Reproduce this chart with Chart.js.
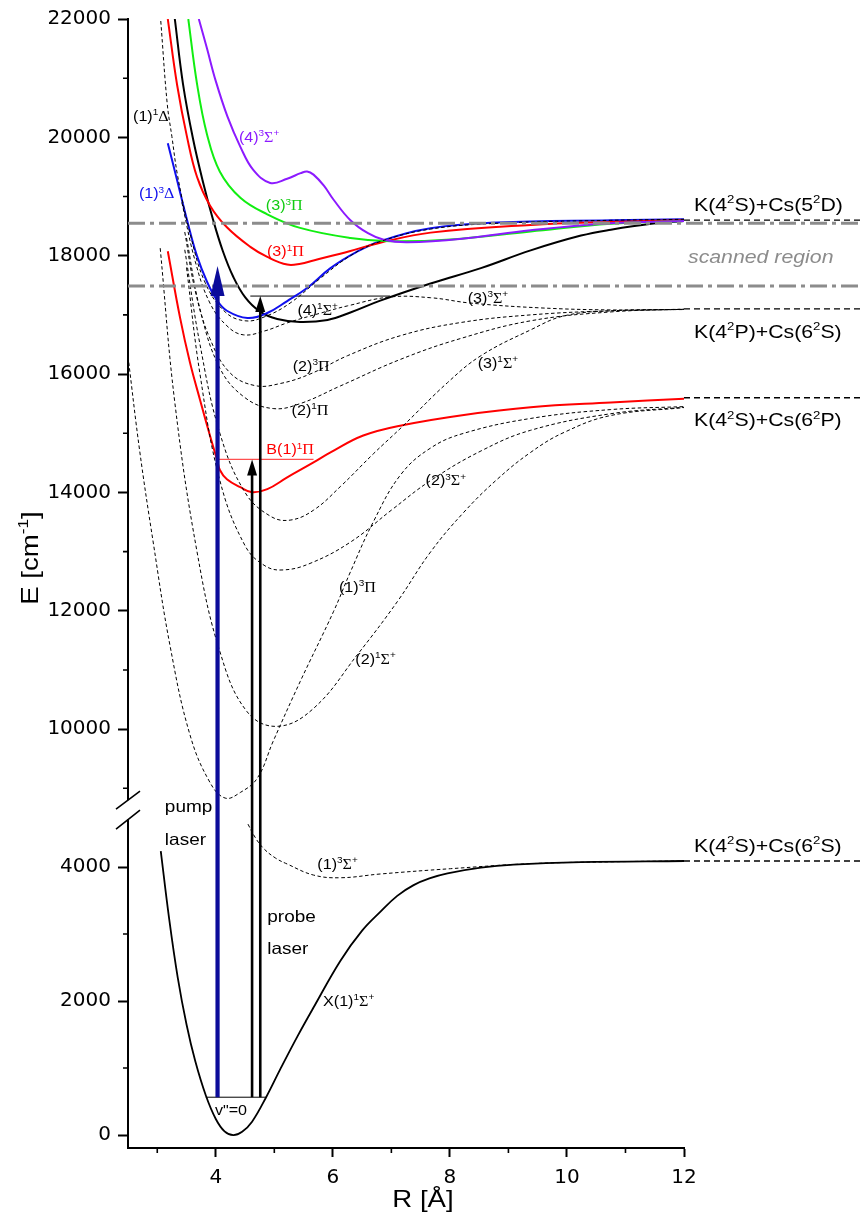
<!DOCTYPE html>
<html>
<head>
<meta charset="utf-8">
<script src="https://cdn.jsdelivr.net/npm/chart.js@4/dist/chart.umd.min.js"></script>
<style>
  body { margin: 0; background: #fff; }
</style>
</head>
<body>
<canvas id="pec" width="864" height="1220"></canvas>
<script>
// R in Angstrom, E in cm^-1
const xTicks = [4, 6, 8, 10, 12];
const xMinor = [3, 5, 7, 9, 11];
const yUpTicks = [10000, 12000, 14000, 16000, 18000, 20000, 22000];
const yUpMinor = [9000, 11000, 13000, 15000, 17000, 19000, 21000];
const yLowTicks = [0, 2000, 4000];
const yLowMinor = [1000, 3000];

// solid curves, upper panel
const r4S3 = [3.71, 3.85, 4.00, 4.20, 4.42, 4.64, 4.93, 5.22, 5.45, 5.56, 5.67, 5.85, 6.01, 6.30, 6.60, 6.87, 7.28, 8.24, 9.38, 10.75, 12.0];
const e4S3 = [22000, 21500, 20950, 20350, 19840, 19450, 19230, 19300, 19395, 19424, 19370, 19180, 18950, 18600, 18380, 18270, 18228, 18290, 18430, 18548, 18585];
const r3P3 = [3.53, 3.68, 3.85, 4.07, 4.42, 4.88, 5.44, 6.30, 6.98, 8.01, 9.38, 10.75, 12.0];
const e3P3 = [22000, 20900, 20050, 19420, 18980, 18700, 18470, 18300, 18245, 18275, 18410, 18540, 18588];
const r3P1 = [3.18, 3.34, 3.51, 3.68, 3.90, 4.19, 4.59, 4.88, 5.22, 5.45, 5.67, 6.30, 6.81, 7.67, 9.38, 10.75, 12.0];
const e3P1 = [22000, 20880, 20000, 19330, 18850, 18480, 18150, 17980, 17850, 17865, 17920, 18080, 18220, 18390, 18520, 18570, 18600];
const r1D3 = [3.18, 3.34, 3.51, 3.68, 3.85, 4.02, 4.19, 4.54, 4.88, 5.22, 5.56, 5.96, 6.40, 6.81, 7.67, 8.81, 10.75, 12.0];
const e1D3 = [19900, 19272, 18598, 17992, 17560, 17250, 17070, 16948, 17032, 17234, 17453, 17790, 18060, 18245, 18464, 18560, 18598, 18615];
const r4S1 = [3.30, 3.44, 3.61, 3.78, 3.95, 4.12, 4.30, 4.50, 4.75, 5.05, 5.44, 5.91, 6.30, 6.81, 7.67, 8.53, 9.38, 10.24, 10.75, 11.44, 12.0];
const e4S1 = [22000, 20900, 19980, 19250, 18620, 18080, 17640, 17300, 17060, 16930, 16880, 16915, 17040, 17240, 17530, 17790, 18090, 18340, 18440, 18540, 18585];
const rB1P = [3.18, 3.39, 3.56, 3.73, 3.90, 4.02, 4.07, 4.19, 4.42, 4.62, 4.88, 5.22, 5.67, 5.96, 6.52, 7.21, 8.24, 9.38, 10.75, 12.0];
const eB1P = [18076, 16950, 16190, 15567, 14961, 14557, 14380, 14222, 14088, 14004, 14055, 14254, 14506, 14675, 14961, 15140, 15310, 15440, 15520, 15584];

// dashed curves, upper panel
const r1D1 = [3.06, 3.17, 3.25, 3.35, 3.56, 3.82, 4.16, 4.50, 4.84, 5.27, 5.79, 6.30, 6.81, 7.67, 8.87, 10.75, 12.0];
const e1D1 = [21966, 20569, 20013, 19339, 18380, 17540, 17050, 16900, 16970, 17200, 17620, 18000, 18240, 18450, 18550, 18598, 18615];
const r3S3 = [3.42, 3.65, 3.90, 4.19, 4.47, 4.84, 5.22, 5.79, 6.25, 6.98, 7.67, 8.35, 9.55, 10.75, 12.0];
const e3S3 = [18900, 17900, 17200, 16815, 16663, 16730, 16865, 17030, 17152, 17303, 17290, 17200, 17118, 17084, 17090];
const r2P3 = [3.47, 3.65, 3.90, 4.24, 4.67, 5.10, 5.61, 6.25, 7.16, 8.18, 9.38, 10.75, 12.0];
const e2P3 = [18400, 17400, 16600, 16024, 15805, 15840, 16000, 16310, 16650, 16870, 17000, 17070, 17095];
const r2P1 = [3.50, 3.73, 4.07, 4.50, 4.98, 5.44, 6.13, 7.16, 8.18, 9.38, 10.75, 12.0];
const e2P1 = [18300, 17100, 16100, 15600, 15417, 15500, 15800, 16250, 16600, 16900, 17050, 17095];
const r3S1 = [3.47, 3.73, 4.07, 4.50, 4.93, 5.27, 5.67, 6.13, 6.69, 7.19, 7.96, 8.53, 9.38, 9.95, 10.75, 12.0];
const e3S1 = [18100, 16500, 15000, 14000, 13600, 13532, 13700, 14100, 14650, 15115, 15856, 16310, 16747, 16983, 17068, 17095];
const r2S3 = [3.50, 3.73, 4.07, 4.50, 4.84, 5.15, 5.61, 6.30, 7.00, 7.67, 8.53, 9.38, 10.75, 12.0];
const e2S3 = [17800, 16000, 14200, 13100, 12760, 12690, 12800, 13160, 13700, 14200, 14700, 15050, 15330, 15440];
const r1P3 = [2.50, 2.70, 2.93, 3.22, 3.56, 3.90, 4.16, 4.42, 4.71, 4.98, 5.44, 6.01, 6.30, 6.69, 7.16, 7.67, 8.24, 9.38, 10.75, 12.0];
const e1P3 = [16300, 14700, 13162, 11400, 9900, 9100, 8835, 8930, 9172, 9794, 10800, 11983, 12656, 13500, 14300, 14750, 15000, 15250, 15400, 15450];
const r2S1 = [3.05, 3.30, 3.68, 4.07, 4.53, 5.05, 5.67, 6.42, 7.10, 7.67, 8.24, 8.81, 9.38, 9.95, 10.75, 12.0];
const e2S1 = [18128, 15519, 12994, 11310, 10300, 10047, 10350, 11259, 12152, 12994, 13667, 14223, 14677, 15014, 15300, 15434];

// lower panel
const rX = [3.06, 3.20, 3.35, 3.50, 3.65, 3.83, 4.00, 4.15, 4.30, 4.45, 4.62, 4.86, 5.10, 5.40, 5.67, 6.13, 6.50, 6.81, 7.10, 7.38, 7.65, 7.96, 8.53, 9.09, 10.24, 12.0];
const eX = [4238, 3250, 2350, 1650, 1100, 590, 240, 55, 0, 50, 200, 565, 980, 1480, 1903, 2602, 3050, 3330, 3570, 3730, 3830, 3905, 3990, 4035, 4072, 4090];
const r1S3 = [4.55, 4.67, 4.81, 5.02, 5.22, 5.67, 6.13, 6.81, 8.01, 9.38, 10.75, 12.0];
const e1S3 = [4640, 4446, 4283, 4134, 4045, 3880, 3840, 3896, 3975, 4050, 4078, 4090];

// asymptotes, scanned region, levels and transitions
const asymUp = [18600, 17100, 15600];
const asymUpNames = ['K(4^2S)+Cs(5^2D)', 'K(4^2P)+Cs(6^2S)', 'K(4^2S)+Cs(6^2P)'];
const asymLow = [4090];
const asymLowNames = ['K(4^2S)+Cs(6^2S)'];
const scanBounds = [18550, 17490];
const vZeroE = 565;
const vZeroR = [3.83, 4.86];
const pumpR = 4.03;
const pumpTop = 17824;
const probeR = [4.62, 4.76];
const probeTop = [14557, 17318];
const bLevelR = [4.03, 5.67];
const probeLevelR = [4.59, 6.98];

const R_FAR = 15.03;   // right end of the asymptote marks
const STRETCH = 1.15;  // figure text is a bit wide

function pts(rs, es) {
    return rs.map((r, i) => ({ x: r, y: es[i] }));
}

function solid(rs, es, color, axis, width) {
    return { data: pts(rs, es), borderColor: color, borderWidth: width || 2, yAxisID: axis };
}

function dashed(rs, es, axis) {
    return { data: pts(rs, es), borderColor: '#000', borderWidth: 1, borderDash: [3.5, 2.5], yAxisID: axis };
}

function flat(rs, e, color, axis, width) {
    return { data: rs.map(r => ({ x: r, y: e })), borderColor: color, borderWidth: width, yAxisID: axis, tension: 0 };
}

const datasets = [
    dashed(r1D1, e1D1, 'yUp'),
    dashed(r3S3, e3S3, 'yUp'),
    dashed(r2P3, e2P3, 'yUp'),
    dashed(r2P1, e2P1, 'yUp'),
    dashed(r3S1, e3S1, 'yUp'),
    dashed(r2S3, e2S3, 'yUp'),
    dashed(r1P3, e1P3, 'yUp'),
    dashed(r2S1, e2S1, 'yUp'),
    solid(rB1P, eB1P, '#ff0000', 'yUp'),
    solid(r4S3, e4S3, '#8c1aff', 'yUp'),
    solid(r3P3, e3P3, '#11ee11', 'yUp'),
    solid(r3P1, e3P1, '#ff0000', 'yUp'),
    solid(r1D3, e1D3, '#1010ee', 'yUp'),
    solid(r4S1, e4S1, '#000', 'yUp'),
    flat(bLevelR, probeTop[0], '#ff5050', 'yUp', 1.3),
    flat(probeLevelR, probeTop[1], '#000', 'yUp', 1),
    dashed(r1S3, e1S3, 'yLow'),
    solid(rX, eX, '#000', 'yLow', 1.8),
    flat(vZeroR, vZeroE, '#000', 'yLow', 1)
];

// state labels: text, R, E, axis, colour
const labels = [
    ['(1)^1Δ', 2.89, 20367, 'yUp', '#000'],
    ['(4)^3Σ^+', 4.74, 20013, 'yUp', '#8c1aff'],
    ['(1)^3Δ', 2.99, 19054, 'yUp', '#1010ee'],
    ['(3)^3Π', 5.17, 18852, 'yUp', '#11cc11'],
    ['(3)^1Π', 5.19, 18077, 'yUp', '#ff0000'],
    ['(4)^1Σ^+', 5.74, 17084, 'yUp', '#000'],
    ['(3)^3Σ^+', 8.65, 17286, 'yUp', '#000'],
    ['(3)^1Σ^+', 8.82, 16192, 'yUp', '#000'],
    ['(2)^3Π', 5.63, 16141, 'yUp', '#000'],
    ['(2)^1Π', 5.61, 15400, 'yUp', '#000'],
    ['B(1)^1Π', 5.27, 14727, 'yUp', '#ff0000'],
    ['(2)^3Σ^+', 7.93, 14205, 'yUp', '#000'],
    ['(1)^3Π', 6.42, 12404, 'yUp', '#000'],
    ['(2)^1Σ^+', 6.73, 11192, 'yUp', '#000'],
    ['(1)^3Σ^+', 6.08, 4045, 'yLow', '#000'],
    ['X(1)^1Σ^+', 6.27, 2007, 'yLow', '#000'],
    ['v"=0', 4.26, 372, 'yLow', '#000']
];
const notes = [
    ['pump', 3.13, 4907], ['laser', 3.13, 4416],
    ['probe', 4.88, 3271], ['laser', 4.88, 2796]
];

function drawRich(ctx, str, x, y, size, color, align, italic) {
    const parts = [];
    for (let i = 0; i < str.length; i++) {
        let ch = str[i], sup = false;
        if (ch === '^') { sup = true; ch = str[++i]; }
        parts.push({ ch, sup });
    }
    const fontOf = p => {
        const s = p.sup ? size * 0.62 : size;
        const fam = /[ΣΠΔ]/.test(p.ch) ? '"Liberation Serif", serif' : '"Liberation Sans", Arial, sans-serif';
        return (italic ? 'italic ' : '') + s + 'px ' + fam;
    };
    let w = 0;
    parts.forEach(p => { ctx.font = fontOf(p); p.w = ctx.measureText(p.ch).width; w += p.w; });
    ctx.save();
    ctx.translate(x, y + size * 0.36);
    ctx.scale(STRETCH, 1);
    let cx = align === 'left' ? 0 : (align === 'right' ? -w : -w / 2);
    ctx.fillStyle = color;
    ctx.textBaseline = 'alphabetic';
    parts.forEach(p => {
        ctx.font = fontOf(p);
        ctx.fillText(p.ch, cx, p.sup ? -size * 0.4 : 0);
        cx += p.w;
    });
    ctx.restore();
}

function arrow(ctx, px, y0, y1, color, width, headLen, headHalf) {
    ctx.save();
    ctx.strokeStyle = color;
    ctx.fillStyle = color;
    ctx.lineWidth = width;
    ctx.beginPath();
    ctx.moveTo(px, y0);
    ctx.lineTo(px, y1 + headLen * 0.8);
    ctx.stroke();
    ctx.beginPath();
    ctx.moveTo(px, y1);
    ctx.lineTo(px - headHalf, y1 + headLen);
    ctx.lineTo(px + headHalf, y1 + headLen);
    ctx.closePath();
    ctx.fill();
    ctx.restore();
}

const decor = {
    id: 'decor',
    afterDraw(chart) {
        const { ctx, scales } = chart;
        const x = scales.x, yUp = scales.yUp, yLow = scales.yLow;
        const left = x.left, xEnd = x.getPixelForValue(R_FAR), xRight = x.getPixelForValue(12);

        // minor ticks
        ctx.save();
        ctx.strokeStyle = '#000';
        ctx.lineWidth = 1.6;
        ctx.beginPath();
        xMinor.forEach(v => { const p = x.getPixelForValue(v); ctx.moveTo(p, x.top); ctx.lineTo(p, x.top + 5); });
        yUpMinor.forEach(v => { const p = yUp.getPixelForValue(v); ctx.moveTo(left - 5, p); ctx.lineTo(left, p); });
        yLowMinor.forEach(v => { const p = yLow.getPixelForValue(v); ctx.moveTo(left - 5, p); ctx.lineTo(left, p); });
        ctx.stroke();

        // axis break
        const b = yUp.bottom;
        ctx.fillStyle = '#fff';
        ctx.fillRect(left - 4, b - 10, 8, 19);
        ctx.lineWidth = 1.6;
        ctx.beginPath();
        ctx.moveTo(left - 12, b - 1); ctx.lineTo(left + 12, b - 19);
        ctx.moveTo(left - 12, b + 19); ctx.lineTo(left + 12, b);
        ctx.stroke();

        // asymptote marks
        ctx.lineWidth = 1.3;
        ctx.setLineDash([6, 4]);
        ctx.beginPath();
        asymUp.forEach(e => { const p = yUp.getPixelForValue(e); ctx.moveTo(xRight, p); ctx.lineTo(xEnd, p); });
        asymLow.forEach(e => { const p = yLow.getPixelForValue(e); ctx.moveTo(xRight, p); ctx.lineTo(xEnd, p); });
        ctx.stroke();

        // scanned region
        ctx.strokeStyle = '#8c8c8c';
        ctx.lineWidth = 3;
        ctx.setLineDash([17, 5, 4, 5]);
        ctx.beginPath();
        scanBounds.forEach(e => { const p = yUp.getPixelForValue(e); ctx.moveTo(left, p); ctx.lineTo(xEnd, p); });
        ctx.stroke();
        ctx.setLineDash([]);
        ctx.restore();

        // transitions
        const yv = yLow.getPixelForValue(vZeroE);
        arrow(ctx, x.getPixelForValue(pumpR), yv, yUp.getPixelForValue(pumpTop), '#0b0b9a', 4.2, 30, 7);
        probeR.forEach((r, i) => arrow(ctx, x.getPixelForValue(r), yv, yUp.getPixelForValue(probeTop[i]), '#000', 2.6, 16, 5));

        // texts
        labels.forEach(([t, r, e, ax, c]) => {
            drawRich(ctx, t, x.getPixelForValue(r), scales[ax].getPixelForValue(e), 14, c, 'center');
        });
        notes.forEach(([t, r, e]) => {
            drawRich(ctx, t, x.getPixelForValue(r), yLow.getPixelForValue(e), 16.5, '#000', 'left');
        });
        const labelX = xRight + 10;
        asymUpNames.forEach((t, i) => {
            const off = i === 0 ? -16 : 22;
            drawRich(ctx, t, labelX, yUp.getPixelForValue(asymUp[i]) + off, 18.5, '#000', 'left');
        });
        asymLowNames.forEach((t, i) => {
            drawRich(ctx, t, labelX, yLow.getPixelForValue(asymLow[i]) - 16, 18.5, '#000', 'left');
        });
        drawRich(ctx, 'scanned region', xRight + 4, (yUp.getPixelForValue(scanBounds[0]) + yUp.getPixelForValue(scanBounds[1])) / 2 + 2, 18.5, '#8c8c8c', 'left', true);

        // axis titles
        drawRich(ctx, 'R [Å]', (x.left + x.right) / 2 + 17, x.bottom - 22, 24, '#000', 'center');
        ctx.save();
        ctx.translate(29, 558);
        ctx.rotate(-Math.PI / 2);
        drawRich(ctx, 'E [cm^-^1]', 0, 0, 24, '#000', 'center');
        ctx.restore();
    }
};

const tickFont = { family: '"DejaVu Sans", sans-serif', size: 20 };
const plainTick = v => String(v);
const axisGrid = { drawOnChartArea: false, drawTicks: true, tickLength: 10, tickWidth: 2, tickColor: '#000' };
const axisBorder = { display: true, color: '#000', width: 2 };

new Chart(document.getElementById('pec'), {
    type: 'line',
    data: { datasets },
    options: {
        responsive: false,
        animation: false,
        events: [],
        layout: { padding: { top: 15, right: 180, left: 0, bottom: 0 } },
        plugins: { legend: { display: false }, tooltip: { enabled: false } },
        elements: {
            point: { radius: 0 },
            line: { tension: 0.4, fill: false }
        },
        scales: {
            x: {
                type: 'linear', min: 2.5, max: 12,
                afterBuildTicks: s => { s.ticks = xTicks.map(v => ({ value: v })); },
                afterFit: s => { s.height = 72; },
                grid: Object.assign({}, axisGrid, { tickLength: 9 }),
                border: axisBorder,
                ticks: { font: tickFont, color: '#000', padding: 9, maxRotation: 0, callback: plainTick }
            },
            yLow: {
                type: 'linear', position: 'left', min: -193, max: 4848,
                stack: 'e', stackWeight: 339,
                afterBuildTicks: s => { s.ticks = yLowTicks.map(v => ({ value: v })); },
                afterFit: s => { s.width = 128; },
                grid: axisGrid, border: axisBorder,
                ticks: { font: tickFont, color: '#000', padding: 7, callback: plainTick }
            },
            yUp: {
                type: 'linear', position: 'left', min: 8630, max: 22000,
                stack: 'e', stackWeight: 794,
                afterBuildTicks: s => { s.ticks = yUpTicks.map(v => ({ value: v })); },
                afterFit: s => { s.width = 128; },
                grid: axisGrid, border: axisBorder,
                ticks: { font: tickFont, color: '#000', padding: 7, callback: plainTick }
            }
        }
    },
    plugins: [decor]
});
</script>
</body>
</html>
